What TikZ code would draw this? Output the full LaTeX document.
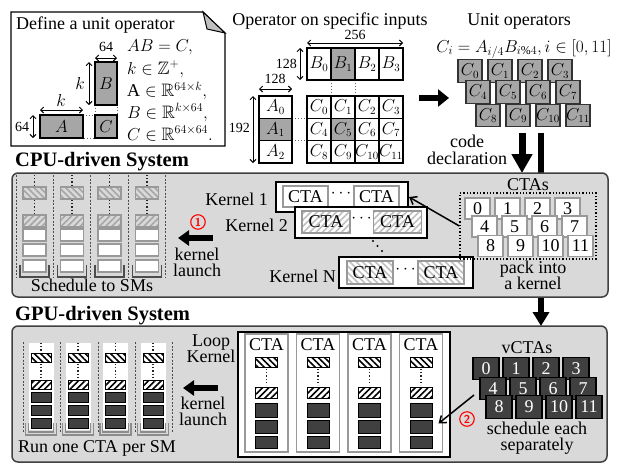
\documentclass[tikz,border=0pt]{standalone}
\usepackage{fontspec}
\setmainfont{Liberation Serif}
\usepackage{amssymb}
\usetikzlibrary{arrows.meta,patterns.meta,calc}
\begin{document}
\begin{tikzpicture}[x=1pt,y=-1pt,
 txt/.style={font=\fontsize{18}{19}\selectfont,inner sep=0pt},
 two/.style={font=\fontsize{18}{16.5}\selectfont,inner sep=0pt,align=center,anchor=base},
 lbl/.style={font=\fontsize{14}{15}\selectfont,inner sep=0pt},
 mth/.style={font=\fontsize{18}{19}\selectfont,inner sep=0pt,anchor=base west},
 ttl/.style={font=\fontsize{20.5}{22}\selectfont\bfseries,inner sep=0pt,anchor=base west},
 dimarr/.style={{Straight Barb[length=3pt,width=6pt]}-{Straight Barb[length=3pt,width=6pt]},line width=1pt},
 mcell/.style={draw=black,line width=1.4pt,inner sep=0pt,font=\fontsize{16}{17}\selectfont},
 ctile/.style={draw=black!80,line width=1.3pt,fill=black!35,inner sep=0pt,minimum width=24pt,minimum height=22.5pt,font=\fontsize{16}{17}\selectfont},
 wtile/.style={draw=black!40,line width=1.3pt,fill=white,inner sep=0pt,minimum width=25pt,minimum height=21pt,font=\fontsize{18}{19}\selectfont},
 vtile/.style={draw=black,line width=1.3pt,fill=black!75,text=white,inner sep=0pt,minimum width=26pt,minimum height=22.5pt,font=\fontsize{18}{19}\selectfont},
 sect/.style={draw=black!75,line width=1.5pt,fill=black!15,rounded corners=6pt},
 kbox/.style={draw=black,line width=2pt,fill=white,inner sep=0pt},
 cta/.style={draw=black!40,line width=1.3pt,fill=white,inner sep=0pt,minimum width=45pt,minimum height=21pt,font=\fontsize{18}{19}\selectfont},
 hatchA/.style={pattern={Lines[angle=45,distance=4.5pt,line width=1.6pt]}},
 hatchB/.style={pattern={Lines[angle=-45,distance=4.5pt,line width=1.6pt]}},
 bigarrow/.style={line width=6pt,-{Triangle[length=11pt,width=15pt]}},
 vd/.style={line width=1.2pt,dash pattern=on 1.2pt off 2pt,draw=black!85},
 sepline/.style={dash pattern=on 2pt off 1.5pt,line width=0.6pt,draw=black!70},
 redno/.style={circle,draw=red,line width=1.1pt,text=red,inner sep=0pt,minimum size=14.5pt,font=\fontsize{11.5}{12}\selectfont\sffamily\bfseries},
 sbox/.style={draw=black!40,line width=1.2pt,fill=white,inner sep=0pt,minimum width=23pt,minimum height=12pt},
 gbox/.style={draw=black,line width=1pt,fill=white,inner sep=0pt},
 dbox/.style={draw=black,line width=1pt,fill=black!75,inner sep=0pt}
]
\useasboundingbox (0,0) rectangle (626,472);

%% ---------- unit operator note ----------
\path[draw=black,line width=1.2pt,fill=white] (11,12) -- (203,12) -- (225,33) -- (225,146) -- (11,146) -- cycle;
\path[draw=black,line width=1pt,fill=black!25] (203,12) -- (207,29) -- (225,33) -- cycle;
\node[txt,anchor=base west] (deftitle) at (16,29) {Define a unit operator};
\draw[black!60,dotted,line width=1pt] (83,115) rectangle (95,138);
\draw[black!60,dotted,line width=1pt] (95,105) rectangle (117,115);
\node[mcell,fill=black!35,minimum width=22pt,minimum height=43pt,font=\fontsize{18}{19}\selectfont] (nb) at (106,83.5) {$B$};
\node[mcell,fill=black!35,minimum width=22pt,minimum height=23pt,font=\fontsize{18}{19}\selectfont] (nc) at (106,126.5) {$C$};
\node[mcell,fill=black!35,minimum width=43pt,minimum height=23pt,font=\fontsize{18}{19}\selectfont] (na) at (61.5,126.5) {$A$};
\node[lbl] (l64a) at (106,47) {64};
\draw[dimarr] (95,58) -- (117,58);
\node[inner sep=0pt,font=\fontsize{17}{18}\selectfont] (lka) at (80,83) {$k$};
\draw[dimarr] (89,62) -- (89,105);
\node[inner sep=0pt,font=\fontsize{17}{18}\selectfont] (lkb) at (61,100) {$k$};
\draw[dimarr] (40,110) -- (83,110);
\node[lbl] (l64b) at (22,127) {64};
\draw[dimarr] (33,115) -- (33,138);
\node[mth] (m1) at (127,51.5) {$AB=C,$};
\node[mth] (m2) at (127,74) {$k\in\mathbb{Z}^{+},$};
\node[mth] (m3) at (127,96.5) {$\mathrm{A}\in\mathbb{R}^{64\times k},$};
\node[mth] (m4) at (127,118) {$B\in\mathbb{R}^{k\times 64},$};
\node[mth] (m5) at (127,140) {$C\in\mathbb{R}^{64\times 64}.$};

%% ---------- operator on specific inputs ----------
\node[txt,anchor=base] (optitle) at (330,25) {Operator on specific inputs};
\node[lbl] (l256) at (355,34.5) {256};
\draw[dimarr] (307,43) -- (403,43);
\node[lbl,anchor=east] (l128a) at (297,64) {128};
\draw[dimarr] (300,48) -- (300,80);
\node[lbl] (l128b) at (275,79) {128};
\draw[dimarr] (259,89) -- (292,89);
\node[lbl,anchor=east] (l192) at (250,128) {192};
\draw[dimarr] (253,96) -- (253,163);
\draw[black!60,dotted,line width=1pt] (331,80) -- (331,96) (355,80) -- (355,96);
\draw[black!60,dotted,line width=1pt] (292,118.3) -- (307,118.3) (292,140.7) -- (307,140.7);
\foreach \i/\xx in {0/319,1/343,2/367,3/391}{
  \ifnum\i=1
    \node[mcell,fill=black!35,minimum width=24pt,minimum height=32pt] (mb\i) at (\xx,64) {$B_{\i}$};
  \else
    \node[mcell,fill=white,minimum width=24pt,minimum height=32pt] (mb\i) at (\xx,64) {$B_{\i}$};
  \fi
}
\foreach \j/\yy in {0/107.17,1/129.5,2/151.83}{
  \ifnum\j=1
    \node[mcell,fill=black!35,minimum width=33pt,minimum height=22.33pt] (ma\j) at (275.5,\yy) {$A_{\j}$};
  \else
    \node[mcell,fill=white,minimum width=33pt,minimum height=22.33pt] (ma\j) at (275.5,\yy) {$A_{\j}$};
  \fi
  \foreach \i/\xx in {0/319,1/343,2/367,3/391}{
    \pgfmathtruncatemacro{\k}{4*\j+\i}
    \ifnum\k=5
      \node[mcell,fill=black!35,minimum width=24pt,minimum height=22.33pt] (mc\k) at (\xx,\yy) {$C_{\k}$};
    \else
      \node[mcell,fill=white,minimum width=24pt,minimum height=22.33pt] (mc\k) at (\xx,\yy) {$C_{\k}$};
    \fi
  }
}
\coordinate (ra1) at (419,98);
\coordinate (ra2) at (449,98);
\draw[line width=6.5pt,-{Triangle[length=11pt,width=17pt]}] (ra1) -- (ra2);

%% ---------- unit operators ----------
\node[txt,anchor=base] (uotitle) at (519,25) {Unit operators};
\node[inner sep=0pt,font=\fontsize{17}{18}\selectfont,anchor=base] (uof) at (524,52) {$C_i=A_{i/4}B_{i\%4}, i\in[0,11]$};
\foreach \i/\xx in {0/470,1/500,2/530,3/560}{\node[ctile] (ct\i) at (\xx,71) {$C_{\i}$};}
\foreach \i/\xx in {4/478,5/508,6/538,7/568}{\node[ctile] (ct\i) at (\xx,92) {$C_{\i}$};}
\foreach \i/\xx in {8/488,9/518,10/548,11/578}{\node[ctile] (ct\i) at (\xx,115.5) {$C_{\i}$};}
\node[two] (code) at (467,164) {code\\declaration};

%% ---------- section boxes and long arrow ----------
\node[ttl] (gputitle) at (15,320) {GPU-driven System};
\path[sect] (12,326) rectangle (607,462);
\coordinate (bar1) at (541,133);
\coordinate (bar2) at (541,326);
\draw[line width=6pt,-{Triangle[length=14pt,width=16pt]}] (bar1) -- (bar2);
\node[ttl] (cputitle) at (15,166) {CPU-driven System};
\path[sect] (12,173) rectangle (608,297);
\coordinate (da1) at (522,133);
\coordinate (da2) at (522,173);
\draw[line width=7pt,-{Triangle[length=19pt,width=20pt]}] (da1) -- (da2);

%% ---------- CPU-driven content ----------
\foreach \sx in {16,53,90.5,128,165.5}{\draw[sepline] (\sx,175) -- (\sx,278);}
\foreach \cx [count=\i] in {34.5,72,109.5,147}{
  \draw[vd] (\cx,175) -- (\cx,186);
  \draw[vd] (\cx,200) -- (\cx,214);
  \node[sbox,hatchB,pattern color=black!35] (sa\i) at (\cx,193) {};
  \node[sbox,hatchA,pattern color=black!35] (sb\i) at (\cx,221) {};
  \node[sbox] (sc\i) at (\cx,235) {};
  \node[sbox] (sd\i) at (\cx,250) {};
  \node[sbox] (se\i) at (\cx,266) {};
  \draw[black!70,line width=1.5pt] (\cx-14.5,265) -- (\cx-14.5,277) -- (\cx+14.5,277) -- (\cx+14.5,265);
}
\node[txt,anchor=base] (sched) at (92,291) {Schedule to SMs};
\node[redno] (r1) at (198,222) {1};
\coordinate (kl1) at (213,238);
\coordinate (kl2) at (178,238);
\draw[bigarrow] (kl1) -- (kl2);
\node[two] (kla) at (197,276.5) {kernel\\launch};

\node[kbox,minimum width=132pt,minimum height=30pt] (k1) at (342,197) {};
\node[cta] (k1a) at (305.5,196.5) {CTA};
\node[cta] (k1b) at (376.5,196.5) {CTA};
\node[txt] (k1d) at (341,194) {$\cdots$};
\node[txt,anchor=base east] (k1l) at (268,205) {Kernel 1};

\node[kbox,minimum width=132pt,minimum height=31pt] (k2) at (361,222.5) {};
\node[cta,minimum width=48pt,minimum height=22pt,hatchA,pattern color=black!25] (k2a) at (326,222) {CTA};
\node[cta,minimum width=48pt,minimum height=22pt,hatchA,pattern color=black!25] (k2b) at (397.5,222) {CTA};
\node[txt] (k2d) at (361.5,219) {$\cdots$};
\node[txt,anchor=base east] (k2l) at (288,231) {Kernel 2};

\fill[black] (373,241) circle (1.1) (377.5,246) circle (1.1) (382,251) circle (1.1);

\node[kbox,minimum width=134pt,minimum height=31pt] (kn) at (406,272.5) {};
\node[cta,minimum width=46pt,minimum height=23pt,hatchB,pattern color=black!25] (kna) at (370,272.5) {CTA};
\node[cta,minimum width=46pt,minimum height=23pt,hatchB,pattern color=black!25] (knb) at (441,272.5) {CTA};
\node[txt] (knd) at (405.5,270) {$\cdots$};
\node[txt,anchor=base east] (knl) at (336,282) {Kernel N};

\node[txt,anchor=base] (ctasl) at (528,190) {CTAs};
\node[draw=black,dotted,line width=1.3pt,minimum width=136pt,minimum height=66pt,inner sep=0pt] (ctas) at (528,226) {};
\foreach \i/\xx in {0/477.5,1/507.5,2/537.5,3/567.5}{\node[wtile] (w\i) at (\xx,208.5) {\i};}
\foreach \i/\xx in {4/484.5,5/514.5,6/544.5,7/574.5}{\node[wtile] (w\i) at (\xx,226.5) {\i};}
\foreach \i/\xx in {8/490.5,9/520.5,10/550.5,11/580.5}{\node[wtile] (w\i) at (\xx,246) {\i};}
\draw[line width=1.5pt,-{Straight Barb[length=6pt,width=9pt]}] (ctas.west) -- (k1.east);
\node[two] (pk) at (533,289.5) {pack into\\a kernel};

%% ---------- GPU-driven content ----------
\foreach \sx in {23,60,98,135,172}{\draw[sepline] (\sx,342) -- (\sx,433);}
\foreach \cx [count=\i] in {41,78,115.5,153}{
  \fill[white] (\cx-12.5,343) rectangle (\cx+12.5,430);
  \draw[black!45,line width=1.3pt] (\cx-15.5,423) -- (\cx-15.5,435) -- (\cx+15.5,435) -- (\cx+15.5,423);
  \draw[black!45,line width=1.3pt] (\cx-12.8,423) -- (\cx-12.8,432) -- (\cx+12.8,432) -- (\cx+12.8,423);
  \draw[vd] (\cx,343) -- (\cx,352);
  \draw[vd] (\cx,364) -- (\cx,378);
  \node[gbox,hatchB,pattern color=black,minimum width=20pt,minimum height=9pt] (ga\i) at (\cx,357.5) {};
  \node[gbox,hatchA,pattern color=black,minimum width=20pt,minimum height=9pt] (gb\i) at (\cx,384.5) {};
  \node[dbox,minimum width=20pt,minimum height=10pt] (gc\i) at (\cx,397) {};
  \node[dbox,minimum width=20pt,minimum height=10pt] (gd\i) at (\cx,410) {};
  \node[dbox,minimum width=20pt,minimum height=10pt] (ge\i) at (\cx,423) {};
}
\node[txt,anchor=base] (runone) at (97,452) {Run one CTA per SM};
\node[two] (loop) at (211,362.5) {Loop\\Kernel};
\coordinate (kg1) at (218,388);
\coordinate (kg2) at (183,388);
\draw[bigarrow] (kg1) -- (kg2);
\node[two] (kgl) at (203,425.5) {kernel\\launch};

\node[kbox,line width=2.5pt,minimum width=212pt,minimum height=125pt] (loopk) at (344,394.5) {};
\foreach \xo [count=\i] in {245,296.5,348,399.5}{
  \node[draw=black!40,line width=1.8pt,fill=white,inner sep=0pt,minimum width=43pt,minimum height=118pt] (lk\i) at (\xo+21.5,393) {};
  \node[txt,anchor=base] (lkt\i) at (\xo+21.5,350) {CTA};
  \node[gbox,hatchB,pattern color=black,minimum width=22pt,minimum height=10pt] (la\i) at (\xo+21.5,362) {};
  \draw[vd] (\xo+21.5,369) -- (\xo+21.5,385);
  \node[gbox,hatchA,pattern color=black,minimum width=22pt,minimum height=11pt] (lb\i) at (\xo+21.5,392.5) {};
  \node[dbox,minimum width=22pt,minimum height=14pt] (lc\i) at (\xo+21.5,410) {};
  \node[dbox,minimum width=22pt,minimum height=13pt] (ld\i) at (\xo+21.5,426.5) {};
  \node[dbox,minimum width=22pt,minimum height=12pt] (le\i) at (\xo+21.5,442) {};
}

\node[txt,anchor=base] (vctasl) at (527,353) {vCTAs};
\foreach \i/\xx in {0/486,1/516,2/546,3/576}{\node[vtile] (v\i) at (\xx,368.5) {\i};}
\foreach \i/\xx in {4/493,5/523,6/553,7/583}{\node[vtile] (v\i) at (\xx,388.5) {\i};}
\foreach \i/\xx in {8/499,9/529,10/559,11/589}{\node[vtile] (v\i) at (\xx,407) {\i};}
\coordinate (vstart) at (474,395);
\draw[line width=1.5pt,-{Straight Barb[length=6pt,width=9pt]}] (vstart) -- ($(ld4.east)+(6,-3)$);
\node[redno] (r2) at (467,419) {2};
\node[two] (sep) at (537,450.5) {schedule each\\separately};
\end{tikzpicture}
\end{document}
